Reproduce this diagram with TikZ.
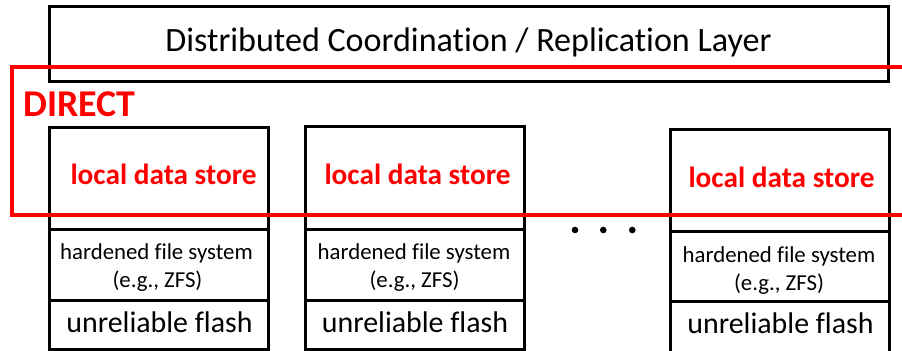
\documentclass[tikz,border=0pt]{standalone}
\usepackage{fontspec}
\setmainfont{Carlito}[Ligatures=NoCommon]
\definecolor{dred}{RGB}{255,0,0}
\begin{document}
\begin{tikzpicture}[x=1bp,y=-1bp,
  box/.style={draw=black, line width=3bp, inner sep=0pt, outer sep=0pt, anchor=north west},
  colbox/.style={box, minimum width=219.5bp},
  toptext/.style={font=\fontsize{34.2}{36}\selectfont, anchor=base, inner sep=0pt},
  dirtext/.style={font=\bfseries\fontsize{38}{42}\selectfont, text=dred, anchor=base west, inner sep=0pt},
  storetext/.style={font=\bfseries\fontsize{29.4}{32}\selectfont, text=dred, anchor=base, inner sep=0pt},
  fstext/.style={font=\fontsize{22.9}{25}\selectfont, anchor=base, inner sep=0pt},
  flashtext/.style={font=\fontsize{30}{32}\selectfont, anchor=base, inner sep=0pt},
  dot/.style={circle, fill=black, inner sep=0pt, minimum size=6.6bp},
  frame/.style={draw=dred, line width=4bp, inner sep=0pt, outer sep=0pt, anchor=north west}]
\useasboundingbox (0,0) rectangle (902,350);
\clip (0,0) rectangle (902,350);
% top layer
\node[box, minimum width=839.2bp, minimum height=74.5bp] (top) at (49.5,6.5) {};
\node[toptext] (toplabel) at (468.5,51) {Distributed Coordination / Replication Layer};
% column 1
\node[colbox, minimum height=101.8bp] (ds1) at (49.3,127.2) {};
\node[colbox, minimum height=71.3bp] (fs1) at (49.3,229) {};
\node[colbox, minimum height=48.7bp] (fl1) at (49.3,300.3) {};
% column 2
\node[colbox, minimum height=102.3bp] (ds2) at (305,126.7) {};
\node[colbox, minimum height=71.3bp] (fs2) at (305,229) {};
\node[colbox, minimum height=48.7bp] (fl2) at (305,300.3) {};
% column 3
\node[colbox, minimum height=102bp] (ds3) at (670,129) {};
\node[colbox, minimum height=70.7bp] (fs3) at (670,231) {};
\node[colbox, minimum height=55bp] (fl3) at (670,301.7) {};
% texts column 1
\node[storetext] (st1) at (163.5,184) {local data store};
\node[fstext] (h1) at (156.5,259) {hardened file system};
\node[fstext] (z1) at (157.5,287) {(e.g., ZFS)};
\node[flashtext] (f1) at (159.5,332) {unreliable flash};
% texts column 2
\node[storetext] (st2) at (417.5,184) {local data store};
\node[fstext] (h2) at (414,259) {hardened file system};
\node[fstext] (z2) at (414.5,287.5) {(e.g., ZFS)};
\node[flashtext] (f2) at (415,332) {unreliable flash};
% texts column 3
\node[storetext] (st3) at (781.5,187.5) {local data store};
\node[fstext] (h3) at (779,262) {hardened file system};
\node[fstext] (z3) at (779,290) {(e.g., ZFS)};
\node[flashtext] (f3) at (780.5,333.5) {unreliable flash};
% dots
\node[dot] (d1) at (575,230) {};
\node[dot] (d2) at (603.3,230) {};
\node[dot] (d3) at (632.3,230) {};
% DIRECT frame
\node[frame, minimum width=920bp, minimum height=148.3bp] (direct) at (12,67) {};
\node[dirtext] (directlabel) at (23,116) {DIRECT};
\end{tikzpicture}
\end{document}
